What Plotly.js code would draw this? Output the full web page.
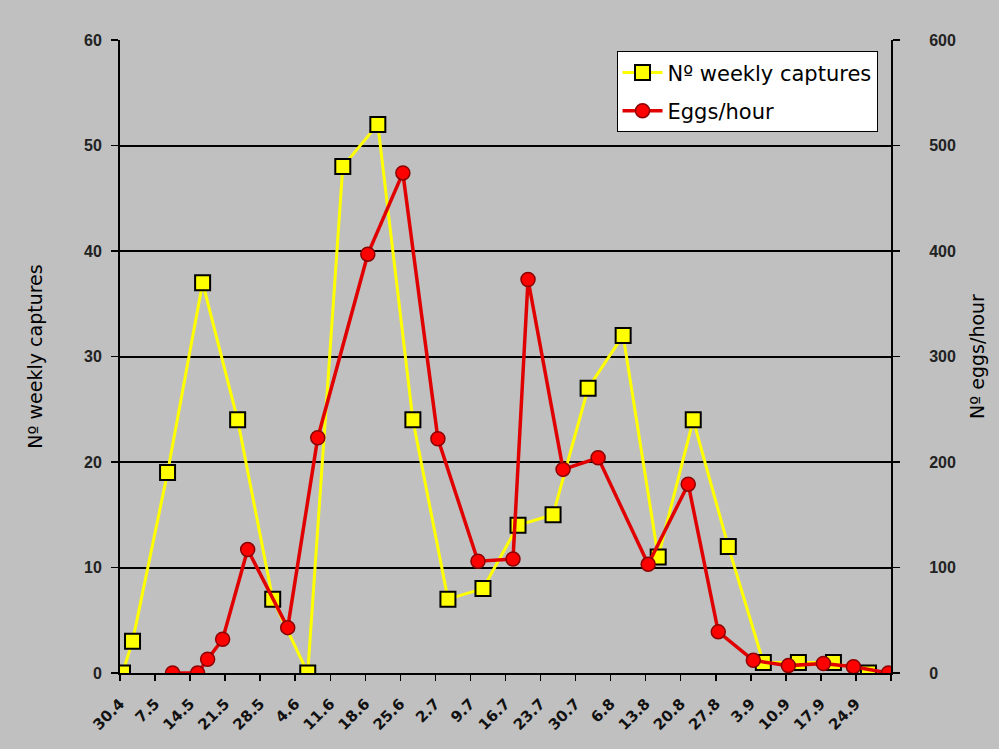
<!DOCTYPE html>
<html>
<head>
<meta charset="utf-8">
<script src="https://cdn.plot.ly/plotly-3.0.1.min.js"></script>
<style>
  html, body { margin: 0; padding: 0; background: #c0c0c0; }
  #chart { width: 999px; height: 749px; }
</style>
</head>
<body>
<div id="chart"></div>
<script>
// ---- data ----
const captureDates = [
  "2007-04-30", "2007-05-02", "2007-05-09", "2007-05-16", "2007-05-23", "2007-05-30",
  "2007-06-06", "2007-06-13", "2007-06-20", "2007-06-27", "2007-07-04", "2007-07-11",
  "2007-07-18", "2007-07-25", "2007-08-01", "2007-08-08", "2007-08-15", "2007-08-22",
  "2007-08-29", "2007-09-05", "2007-09-12", "2007-09-19", "2007-09-26"
];
const weeklyCaptures = [0, 3, 19, 37, 24, 7, 0, 48, 52, 24, 7, 8, 14, 15, 27, 32, 11, 24, 12, 1, 1, 1, 0];

const eggDates = [
  "2007-05-10", "2007-05-15", "2007-05-17", "2007-05-20", "2007-05-25", "2007-06-02",
  "2007-06-08", "2007-06-18", "2007-06-25", "2007-07-02", "2007-07-10", "2007-07-17",
  "2007-07-20", "2007-07-27", "2007-08-03", "2007-08-13", "2007-08-21", "2007-08-27",
  "2007-09-03", "2007-09-10", "2007-09-17", "2007-09-23", "2007-09-30"
];
const eggsPerHour = [0, 0, 13, 32, 117, 43, 223, 397, 474, 222, 106, 108, 373, 193, 204, 103, 179, 39, 12, 7, 9, 6, 0];

const tickLabels = ["30.4", "7.5", "14.5", "21.5", "28.5", "4.6", "11.6", "18.6", "25.6", "2.7", "9.7",
  "16.7", "23.7", "30.7", "6.8", "13.8", "20.8", "27.8", "3.9", "10.9", "17.9", "24.9", ""];

// ---- axis helpers built from the labels ----
const axisStart = new Date(Date.UTC(2007, 3, 29, 12, 0, 0));
const DAY = 86400000;
function fmt(d) { return d.toISOString().replace("T", " ").slice(0, 19); }
const tickVals = tickLabels.map((_, i) => fmt(new Date(axisStart.getTime() + i * 7 * DAY)));
const axisEnd = fmt(new Date(axisStart.getTime() + (tickLabels.length - 1) * 7 * DAY));

const FONT = "DejaVu Sans, Arial, sans-serif";
const TICKFONT = "Liberation Sans, Arial, sans-serif";

const traces = [
  {
    type: "scatter", mode: "lines+markers", name: "Nº weekly captures", legendgroup: "a",
    x: captureDates, y: weeklyCaptures, xaxis: "x", yaxis: "y",
    line: { color: "#ffff00", width: 3 },
    marker: { symbol: "square", size: 15, color: "#ffff00", line: { color: "#000000", width: 2 } }
  },
  {
    type: "scatter", mode: "lines+markers", name: "Eggs/hour", legendgroup: "b",
    x: eggDates, y: eggsPerHour, xaxis: "x", yaxis: "y2",
    line: { color: "#e00000", width: 3.5 },
    marker: { symbol: "circle", size: 14, color: "#ff0000", line: { color: "#8a0000", width: 1.5 } }
  }
];

const layout = {
  width: 999, height: 749,
  paper_bgcolor: "#c0c0c0", plot_bgcolor: "#c0c0c0",
  margin: { l: 120, r: 108, t: 40, b: 76 },
  font: { family: FONT, color: "#000000" },
  showlegend: true,
  legend: {
    x: 0.644, y: 0.982, xanchor: "left", yanchor: "top",
    bgcolor: "#ffffff", bordercolor: "#000000", borderwidth: 1,
    font: { family: FONT, size: 21, color: "#000000" },
    traceorder: "grouped", tracegroupgap: 8,
    itemwidth: 40
  },
  xaxis: {
    type: "date",
    range: [fmt(axisStart), axisEnd],
    tickmode: "array", tickvals: tickVals, ticktext: tickLabels,
    tickangle: -45,
    ticks: "outside", ticklen: 6, tickcolor: "#000000", tickwidth: 1.5,
    showline: true, linecolor: "#000000", linewidth: 2,
    showgrid: false, zeroline: false,
    ticklabelstandoff: 8,
    tickfont: { family: FONT, size: 15, color: "#111111", weight: "bold" }
  },
  yaxis: {
    range: [0, 60], dtick: 10,
    ticks: "outside", ticklen: 7, tickcolor: "#000000", tickwidth: 1.5,
    showline: true, linecolor: "#000000", linewidth: 2,
    showgrid: true, gridcolor: "#000000", gridwidth: 2,
    zeroline: false,
    tickfont: { family: TICKFONT, size: 16, color: "#222222", weight: "bold" },
    ticklabelstandoff: 6,
    title: { text: "Nº weekly captures", font: { family: FONT, size: 19, color: "#000000" }, standoff: 36 }
  },
  yaxis2: {
    range: [0, 600], dtick: 100,
    overlaying: "y", side: "right", anchor: "x",
    ticks: "outside", ticklen: 7, tickcolor: "#000000", tickwidth: 1.5,
    showline: true, linecolor: "#000000", linewidth: 2,
    showgrid: false, zeroline: false,
    tickfont: { family: TICKFONT, size: 16, color: "#222222", weight: "bold" },
    ticklabelstandoff: 26,
    title: { text: "Nº eggs/hour", font: { family: FONT, size: 19, color: "#000000" }, standoff: 16 }
  }
};

Plotly.newPlot("chart", traces, layout, { displayModeBar: false, staticPlot: true });
</script>
</body>
</html>
